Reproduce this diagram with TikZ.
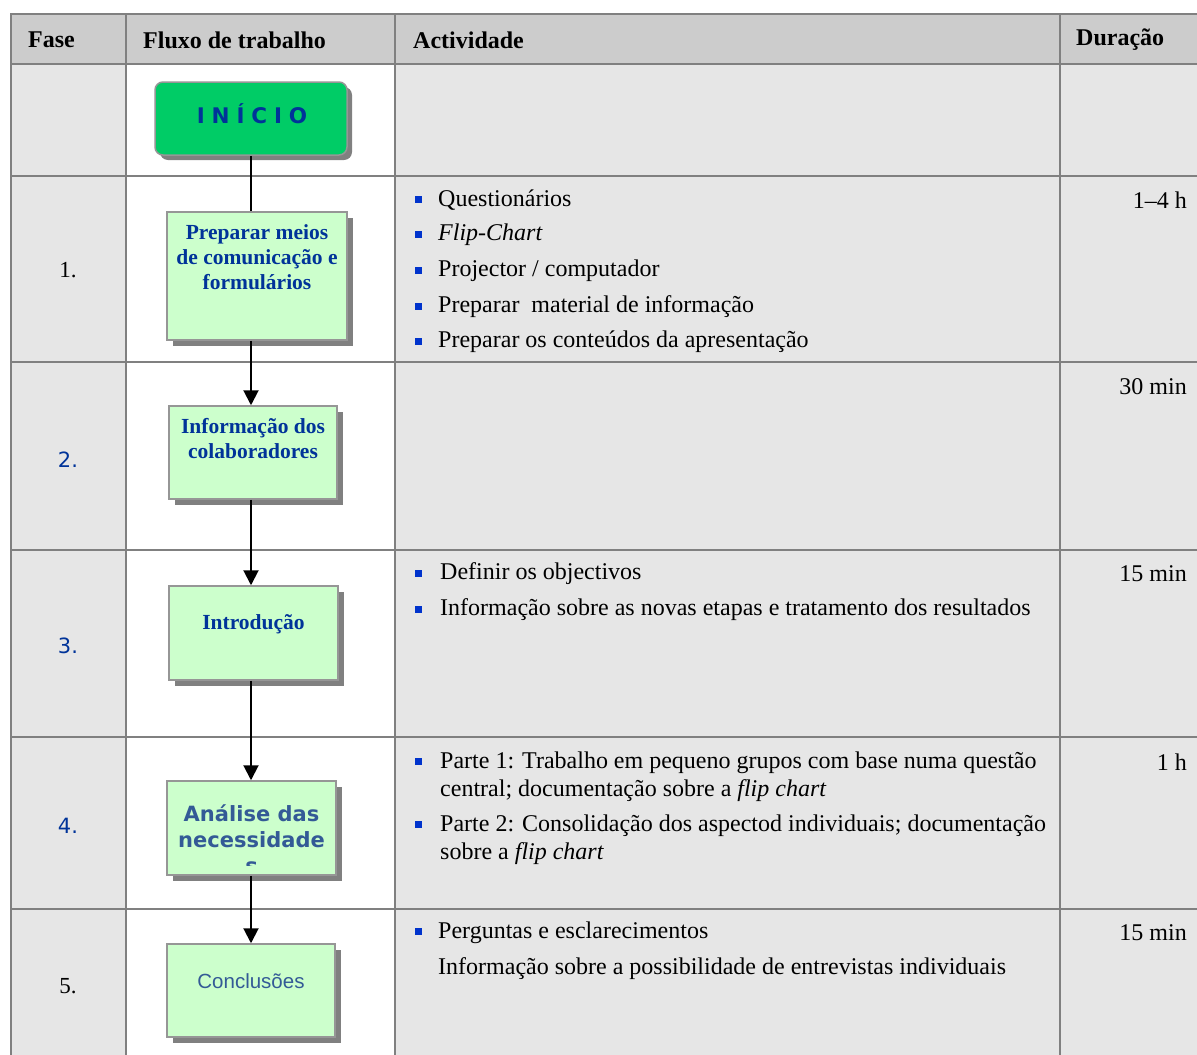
\documentclass[tikz,border=0pt]{standalone}
\usepackage{fontspec}
\setmainfont{Liberation Serif}
\newfontfamily\arialf{Liberation Sans}
\newfontfamily\verdf{DejaVu Sans}
\newfontfamily\inif[LetterSpace=32]{DejaVu Sans}
\usetikzlibrary{arrows.meta,shadows}
\definecolor{gridc}{RGB}{128,128,128}
\definecolor{headc}{RGB}{204,204,204}
\definecolor{cellc}{RGB}{230,230,230}
\definecolor{boxc}{RGB}{204,255,204}
\definecolor{boxedge}{RGB}{150,150,150}
\definecolor{startc}{RGB}{0,204,102}
\definecolor{bluet}{RGB}{0,51,153}
\definecolor{bluem}{RGB}{51,90,150}
\definecolor{shad}{RGB}{128,128,128}
\definecolor{bul}{RGB}{0,51,204}
\begin{document}
\begin{tikzpicture}[x=1pt,y=-1pt,
  gridline/.style={draw=gridc,line width=2pt},
  hdr/.style={anchor=west,font=\fontsize{24}{28}\selectfont\bfseries,inner sep=0},
  act/.style={anchor=west,font=\fontsize{24}{28}\selectfont,inner sep=0},
  dur/.style={anchor=east,font=\fontsize{24}{28}\selectfont,inner sep=0},
  numserif/.style={font=\fontsize{23}{26}\selectfont,inner sep=0},
  numsans/.style={font=\verdf\fontsize{21}{25}\selectfont,text=bluet,inner sep=0},
  bsq/.style={fill=bul,minimum size=7pt,inner sep=0},
  flowbox/.style={draw=boxedge,line width=1.5pt,fill=boxc,
     drop shadow={shadow xshift=6pt,shadow yshift=-6pt,fill=shad,opacity=1},inner sep=0},
  startbox/.style={draw=boxedge,line width=1.5pt,fill=startc,rounded corners=8pt,
     drop shadow={shadow xshift=5pt,shadow yshift=-5pt,fill=shad,opacity=1},inner sep=0},
  boxtxt/.style={anchor=north,align=center,text=bluet,inner sep=0,
     font=\fontsize{21.5}{25}\selectfont\bfseries},
  ln/.style={line width=2pt,black},
  arr/.style={line width=2pt,black,-{Triangle[width=15pt,length=15pt]}}
]
\useasboundingbox (0,0) rectangle (1197,1055);
\clip (0,0) rectangle (1197,1055);
% cell fills
\fill[headc] (11,14) rectangle (1210,64);
\fill[cellc] (11,64) rectangle (126,1070);
\fill[white] (126,64) rectangle (395,1070);
\fill[cellc] (395,64) rectangle (1210,1070);
% grid
\foreach \xx in {11,126,395,1060} \draw[gridline] (\xx,13) -- (\xx,1070);
\foreach \yy in {14,64,176,362,550,737,909} \draw[gridline] (10,\yy) -- (1210,\yy);
% header
\node[hdr] (h1) at (28,40) {Fase};
\node[hdr] (h2) at (143,40) {Fluxo de trabalho};
\node[hdr] (h3) at (413,40) {Actividade};
\node[hdr] (h4) at (1076,40) {Duração};
% phase numbers
\node[numserif] (n1) at (68,270) {1.};
\node[numsans] (n2) at (68,460) {2.};
\node[numsans] (n3) at (68,646) {3.};
\node[numsans] (n4) at (68,826) {4.};
\node[numserif] (n5) at (68,986) {5.};
% flow boxes
\node[startbox,minimum width=192pt,minimum height=73pt] (b0) at (251,118.5) {};
\node[font=\inif\bfseries\fontsize{21.5}{24}\selectfont,text=bluet,inner sep=0] (t0) at (252,114) {INÍCIO};
\node[flowbox,minimum width=180pt,minimum height=128pt] (b1) at (257,276) {};
\node[boxtxt] (t1) at ([yshift=-13pt]b1.north) {Preparar meios\\de comunicação e\\formulários};
\node[flowbox,minimum width=168pt,minimum height=93pt] (b2) at (253,452.5) {};
\node[boxtxt] (t2) at ([yshift=-13pt]b2.north) {Informação dos\\colaboradores};
\node[flowbox,minimum width=169pt,minimum height=94pt] (b3) at (253.5,633) {};
\node[boxtxt] (t3) at ([yshift=-29pt]b3.north) {Introdução};
\node[flowbox,minimum width=169pt,minimum height=94pt] (b4) at (251.5,828) {};
\begin{scope}
\clip (168,782) rectangle (335,865);
\node[anchor=north,align=center,text=bluem,inner sep=0,font=\verdf\bfseries\fontsize{21}{26}\selectfont] (t4) at ([yshift=-24pt]b4.north) {Análise das\\necessidade\\s};
\end{scope}
\node[flowbox,minimum width=168pt,minimum height=93pt] (b5) at (251,990.5) {};
\node[text=bluem,inner sep=0,font=\arialf\fontsize{20.5}{24}\selectfont] (t5) at (251,981) {Conclusões};
% connectors
\draw[ln] (b0.south) -- (b0.south |- b1.north);
\draw[arr] (b1.south -| b0.south) -- (b2.north -| b0.south);
\draw[arr] (b2.south -| b0.south) -- (b3.north -| b0.south);
\draw[arr] (b3.south -| b0.south) -- (b4.north -| b0.south);
\draw[arr] (b4.south -| b0.south) -- (b5.north -| b0.south);
% activities row 1
\node[bsq] (q1) at (418,199) {}; \node[act] (a1) at (438,200) {Questionários};
\node[bsq] (q2) at (418,234) {}; \node[act] (a2) at (438,235) {\itshape Flip-Chart};
\node[bsq] (q3) at (418,270) {}; \node[act] (a3) at (438,271) {Projector / computador};
\node[bsq] (q4) at (418,306) {}; \node[act] (a4) at (438,307) {Preparar\ \ material de informação};
\node[bsq] (q5) at (418,341) {}; \node[act] (a5) at (438,342) {Preparar os conteúdos da apresentação};
% row 3
\node[bsq] (q6) at (418,573) {}; \node[act] (a6) at (440,574) {Definir os objectivos};
\node[bsq] (q7) at (418,609) {}; \node[act] (a7) at (440,610) {Informação sobre as novas etapas e tratamento dos resultados};
% row 4
\node[bsq] (q8) at (418,761) {}; \node[act] (a8) at (440,763) {Parte 1: Trabalho em pequeno grupos com base numa questão};
\node[act] (a9) at (440,791) {central; documentação sobre a \textit{flip chart}};
\node[bsq] (q9) at (418,824) {}; \node[act] (a10) at (440,826) {Parte 2: Consolidação dos aspectod individuais; documentação};
\node[act] (a11) at (440,854) {sobre a \textit{flip chart}};
% row 5
\node[bsq] (q10) at (418,931) {}; \node[act] (a12) at (438,933) {Perguntas e esclarecimentos};
\node[act] (a13) at (438,969) {Informação sobre a possibilidade de entrevistas individuais};
% durations
\node[dur] (d1) at (1187,200) {1–4 h};
\node[dur] (d2) at (1187,387) {30 min};
\node[dur] (d3) at (1187,574) {15 min};
\node[dur] (d4) at (1187,762) {1 h};
\node[dur] (d5) at (1187,933) {15 min};
\end{tikzpicture}
\end{document}
